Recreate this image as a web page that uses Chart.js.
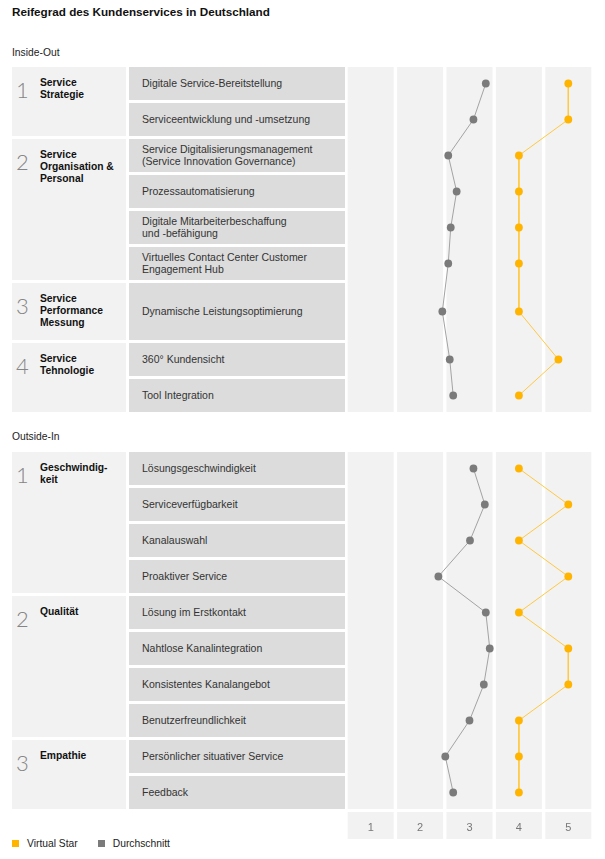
<!DOCTYPE html>
<html lang="de">
<head>
<meta charset="utf-8">
<title>Reifegrad des Kundenservices in Deutschland</title>
<script src="https://cdn.jsdelivr.net/npm/chart.js@4.4.1/dist/chart.umd.min.js"></script>
<style>
  body { margin: 0; width: 605px; height: 859px; background: #fff; position: relative; overflow: hidden;
         font-family: 'Liberation Sans', Arial, Helvetica, sans-serif; color: #222; }
  .abs { position: absolute; }
  .title { left: 12px; top: 5px; font-size: 11.7px; line-height: 14px; font-weight: bold; color: #111; }
  .section { left: 12px; font-size: 10.3px; line-height: 12px; color: #222; }
  .group { left: 12px; width: 114px; background: #f2f2f2; }
  .group .num { position: absolute; left: 4px; top: 11.5px; font-family: Lato, 'Open Sans', sans-serif; font-weight: 300;
                font-size: 22px; line-height: 22px; color: #858585; }
  .group .name { position: absolute; left: 28px; top: 10px; font-size: 10.3px; line-height: 12px; font-weight: bold;
                 color: #111; white-space: pre; }
  .item { left: 129px; width: 216px; background: #dcdcdc; display: flex; align-items: center; box-sizing: border-box;
          padding-left: 13px; padding-bottom: 1px; font-size: 10.5px; line-height: 12px; color: #333; white-space: pre; }
  .legend { top: 837px; left: 12px; display: flex; font-size: 10.3px; line-height: 13px; color: #222; }
  .legend span.key { display: inline-flex; align-items: center; margin-right: 20px; }
  .legend i { display: inline-block; width: 7px; height: 7px; margin-right: 8px; }
  canvas { position: absolute; }
</style>
</head>
<body>
<div class="abs title">Reifegrad des Kundenservices in Deutschland</div>
<div id="page"></div>

<script>
// ---- Daten ----
const scoreTicks = [1, 2, 3, 4, 5];
const seriesNames = ['Virtual Star', 'Durchschnitt'];

const insideGroups = ['Service\nStrategie', 'Service\nOrganisation &\nPersonal', 'Service\nPerformance\nMessung', 'Service\nTehnologie'];
const insideGroupSizes = [2, 4, 1, 2];
const insideItems = [
  'Digitale Service-Bereitstellung',
  'Serviceentwicklung und -umsetzung',
  'Service Digitalisierungsmanagement\n(Service Innovation Governance)',
  'Prozessautomatisierung',
  'Digitale Mitarbeiterbeschaffung\nund -befähigung',
  'Virtuelles Contact Center Customer\nEngagement Hub',
  'Dynamische Leistungsoptimierung',
  '360° Kundensicht',
  'Tool Integration'
];
const insideVirtualStar = [5, 5, 4, 4, 4, 4, 4, 4.8, 4];
const insideAverage = [3.33, 3.08, 2.57, 2.74, 2.62, 2.57, 2.45, 2.6, 2.67];

const outsideGroups = ['Geschwindig-\nkeit', 'Qualität', 'Empathie'];
const outsideGroupSizes = [4, 4, 2];
const outsideItems = [
  'Lösungsgeschwindigkeit',
  'Serviceverfügbarkeit',
  'Kanalauswahl',
  'Proaktiver Service',
  'Lösung im Erstkontakt',
  'Nahtlose Kanalintegration',
  'Konsistentes Kanalangebot',
  'Benutzerfreundlichkeit',
  'Persönlicher situativer Service',
  'Feedback'
];
const outsideVirtualStar = [4, 5, 4, 5, 4, 5, 5, 4, 4, 4];
const outsideAverage = [3.08, 3.31, 3.01, 2.37, 3.33, 3.41, 3.29, 3.0, 2.51, 2.67];

// ---- Layout ----
const PITCH = 36, GAP = 3;
const insideRowSpans = [1, 1, 1, 1, 1, 1, 5 / 3, 1, 1];
const outsideRowSpans = outsideItems.map(() => 1);
const COLORS = { star: '#ffb400', starLine: '#ffc940', avg: '#7b7b7b', avgLine: '#a3a3a3' };
const FONT = "'Liberation Sans', Arial, sans-serif";

const page = document.getElementById('page');
function el(cls, style, html) {
  const d = document.createElement('div');
  d.className = 'abs ' + cls;
  Object.assign(d.style, style);
  if (html !== undefined) d.innerHTML = html;
  page.appendChild(d);
  return d;
}

// gray columns behind the points, plus the tiles of the score axis
const columnBands = {
  id: 'columnBands',
  beforeDraw(chart) {
    const { ctx, chartArea, scales: { x } } = chart;
    ctx.save();
    ctx.fillStyle = '#f2f2f2';
    scoreTicks.forEach(v => {
      const l = x.getPixelForValue(v - 0.5) + 1.7;
      const r = x.getPixelForValue(v + 0.5) - 1.7;
      ctx.fillRect(l, chartArea.top, r - l, chartArea.bottom - chartArea.top);
      if (x.options.display) ctx.fillRect(l, x.top + GAP, r - l, x.bottom - x.top - GAP);
    });
    ctx.restore();
  }
};

function buildSection(label, labelTop, top, groups, groupSizes, items, spans, star, avg, showAxis) {
  el('section', { top: labelTop + 'px' }, label);

  const cum = [];
  spans.reduce((acc, s, i) => (cum[i] = acc, acc + s), 0);
  const total = spans.reduce((a, b) => a + b, 0);

  items.forEach((txt, i) => {
    el('item', { top: (top + cum[i] * PITCH) + 'px', height: (spans[i] * PITCH - GAP) + 'px' }, txt);
  });

  let r = 0;
  groups.forEach((name, g) => {
    const span = spans.slice(r, r + groupSizes[g]).reduce((a, b) => a + b, 0);
    const box = el('group', { top: (top + cum[r] * PITCH) + 'px', height: (span * PITCH - GAP) + 'px' });
    box.innerHTML = '<div class="num">' + (g + 1) + '</div><div class="name">' + name.replace('&', '&amp;') + '</div>';
    r += groupSizes[g];
  });

  const tableH = total * PITCH - GAP;
  const axisH = showAxis ? 30 : 0;
  const canvas = document.createElement('canvas');
  canvas.width = 247;
  canvas.height = tableH + axisH;
  Object.assign(canvas.style, { left: '346px', top: top + 'px', width: '247px', height: (tableH + axisH) + 'px' });
  page.appendChild(canvas);

  const yOf = i => cum[i] + (spans[i] - GAP / PITCH) / 2;
  const pts = arr => arr.map((v, i) => ({ x: v, y: yOf(i) }));

  new Chart(canvas.getContext('2d'), {
    type: 'scatter',
    data: {
      datasets: [
        { label: seriesNames[0], data: pts(star), showLine: true, borderColor: COLORS.starLine, borderWidth: 1,
          pointBackgroundColor: COLORS.star, pointBorderWidth: 0, pointRadius: 3.9, pointHoverRadius: 3.9 },
        { label: seriesNames[1], data: pts(avg), showLine: true, borderColor: COLORS.avgLine, borderWidth: 1,
          pointBackgroundColor: COLORS.avg, pointBorderWidth: 0, pointRadius: 3.9, pointHoverRadius: 3.9 }
      ]
    },
    options: {
      responsive: false,
      animation: false,
      layout: { padding: 0, autoPadding: false },
      plugins: { legend: { display: false }, tooltip: { enabled: false } },
      scales: {
        x: {
          type: 'linear', min: 0.5, max: 5.5, display: showAxis, position: 'bottom',
          grid: { display: false }, border: { display: false },
          afterBuildTicks: s => { s.ticks = scoreTicks.map(v => ({ value: v })); },
          afterFit: s => { s.height = axisH; },
          ticks: { color: '#777', font: { family: FONT, size: 11 }, padding: 4 }
        },
        y: { type: 'linear', reverse: true, min: 0, max: total - GAP / PITCH, display: false }
      }
    },
    plugins: [columnBands]
  });
}

buildSection('Inside-Out', 47, 67, insideGroups, insideGroupSizes, insideItems, insideRowSpans,
  insideVirtualStar, insideAverage, false);
buildSection('Outside-In', 431, 452, outsideGroups, outsideGroupSizes, outsideItems, outsideRowSpans,
  outsideVirtualStar, outsideAverage, true);

// legend
const legend = el('legend', {});
[COLORS.star, COLORS.avg].forEach((c, i) => {
  legend.innerHTML += '<span class="key"><i style="background:' + c + '"></i>' + seriesNames[i] + '</span>';
});
</script>
</body>
</html>
